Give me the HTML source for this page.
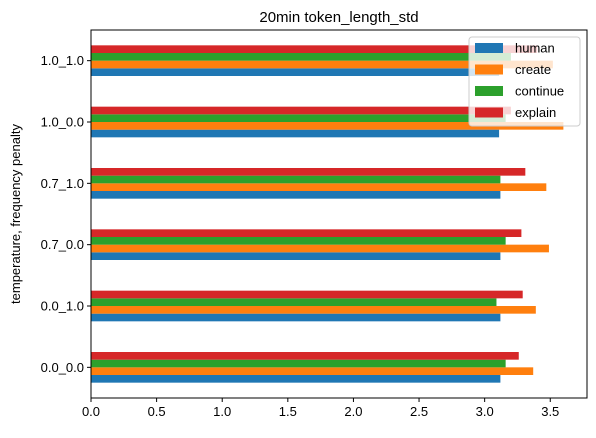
<!DOCTYPE html>
<html><head><meta charset="utf-8"><style>
body{margin:0;background:#fff;font-family:"Liberation Sans","DejaVu Sans",sans-serif;}
</style></head><body>
<svg width="596" height="433" xmlns="http://www.w3.org/2000/svg" font-family="Liberation Sans, DejaVu Sans, sans-serif">
<g id="plot"></g>
</svg>
<script>
const categories=["0.0_0.0","0.0_1.0","0.7_0.0","0.7_1.0","1.0_0.0","1.0_1.0"];
const seriesNames=["human","create","continue","explain"];
const human=[3.12,3.12,3.12,3.12,3.11,3.11];
const create=[3.37,3.39,3.49,3.47,3.60,3.52];
const cont=[3.16,3.09,3.16,3.12,3.16,3.20];
const explain=[3.26,3.29,3.28,3.31,3.20,3.40];
const xTicks=[0,0.5,1.0,1.5,2.0,2.5,3.0,3.5];
const colors=["#1f77b4","#ff7f0e","#2ca02c","#d62728"];
const series=[human,create,cont,explain];
const L=91,R=587,T=30,B=398,xmax=3.78;
const NS="http://www.w3.org/2000/svg";
const g=document.getElementById('plot');
const xs=v=>L+v/xmax*(R-L);
const step=(B-T)/categories.length;
const ys=i=>B-step*(i+0.5);
function mk(t,a,txt){const e=document.createElementNS(NS,t);for(const k in a)e.setAttribute(k,a[k]);if(txt!==undefined)e.textContent=txt;g.appendChild(e);return e;}
const bh=step*0.5/4;
categories.forEach((c,i)=>{
 series.forEach((s,j)=>{
  const y=ys(i)+step*0.25-bh*(j+1);
  const r=mk('rect',{x:L,y:y,width:xs(s[i])-L,height:bh,fill:colors[j]});
  
  
 });
 mk('line',{x1:L-4,x2:L,y1:ys(i),y2:ys(i),stroke:'#000'});
 const t=mk('text',{x:L-7,y:ys(i)+4.5,'text-anchor':'end','font-size':13},c);
 
 
});
xTicks.forEach(v=>{
 mk('line',{x1:xs(v),x2:xs(v),y1:B,y2:B+4,stroke:'#000'});
 const t=mk('text',{x:xs(v),y:B+18,'text-anchor':'middle','font-size':13},v.toFixed(1));
 
 
});
const fr=mk('rect',{x:L,y:T,width:R-L,height:B-T,fill:'none',stroke:'#000','stroke-width':1});


const ti=mk('text',{x:(L+R)/2,y:T-8,'text-anchor':'middle','font-size':15},'20min token_length_std');


const yt=mk('text',{x:20,y:(T+B)/2,'text-anchor':'middle','font-size':13,transform:'rotate(-90 20 '+((T+B)/2)+')'},'temperature, frequency penalty');


const lg=mk('rect',{x:469,y:37,width:111,height:89,fill:'#fff','fill-opacity':0.8,stroke:'#ccc',rx:3});


seriesNames.forEach((n,j)=>{
 const y=48+j*21.5;
 mk('rect',{x:475,y:y-5,width:28,height:10,fill:colors[j]});
 const t=mk('text',{x:515,y:y+4.5,'font-size':13},n);
 
 
});
</script>
</body></html>
